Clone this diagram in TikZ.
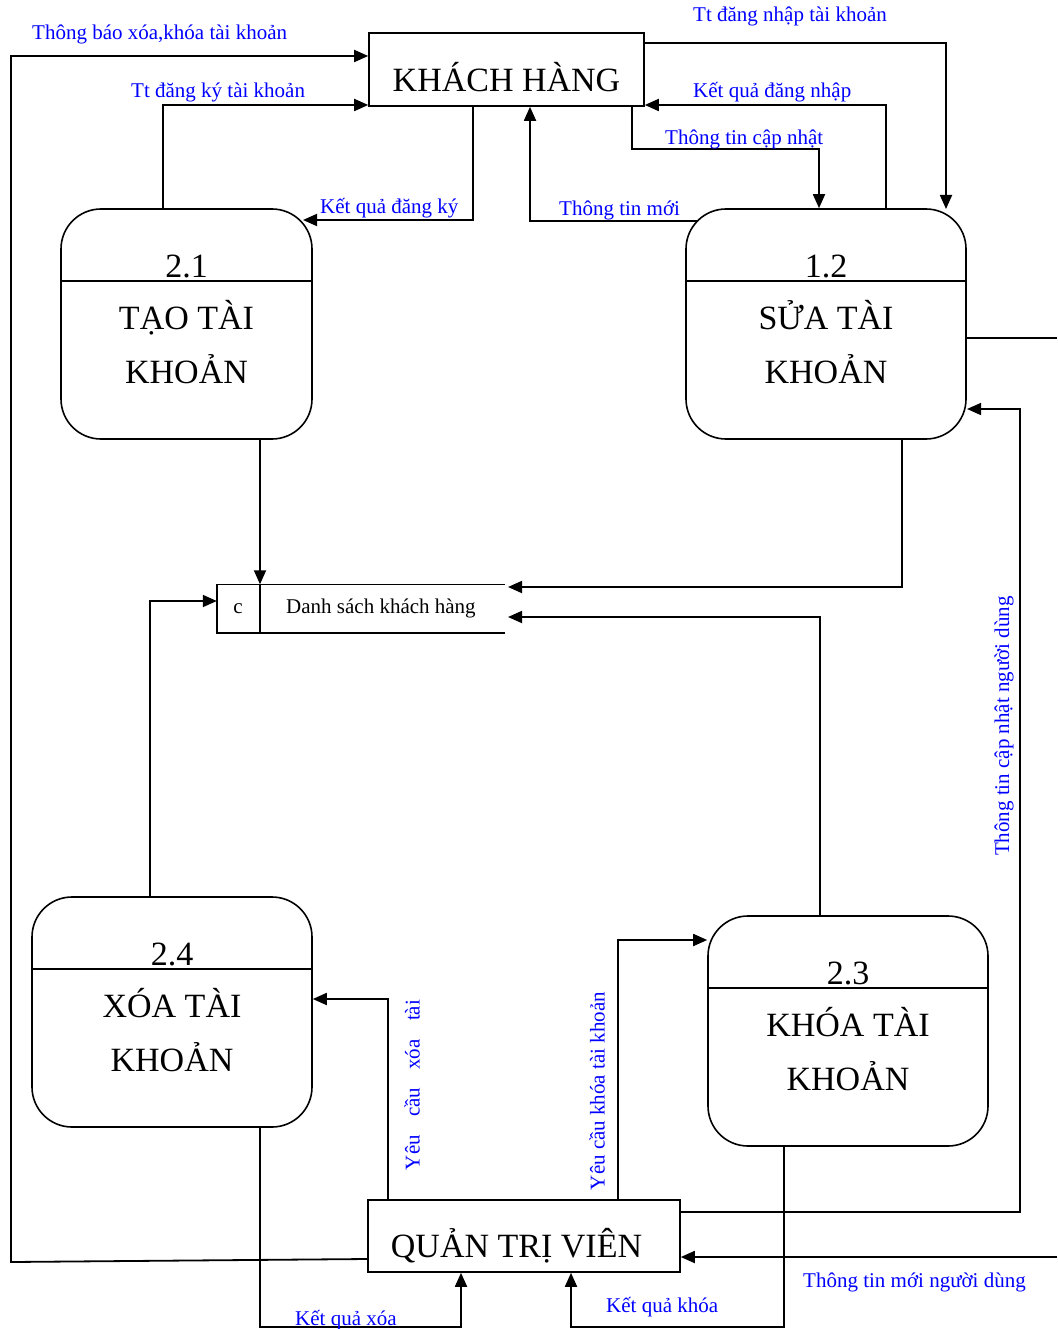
\documentclass[tikz,border=0pt]{standalone}
\usepackage{fontspec}
\setmainfont{Liberation Serif}
\usetikzlibrary{arrows.meta,calc}

\begin{document}
\begin{tikzpicture}[x=1pt,y=-1pt,
  flow/.style={line width=1.8pt,-{Triangle[length=14pt,width=12pt]}},
  plain/.style={line width=1.8pt},
  thinline/.style={line width=1.3pt},
  lbl/.style={text=blue,font=\fontsize{21}{25}\selectfont,inner sep=0pt},
  big/.style={font=\fontsize{34}{40}\selectfont,inner sep=0pt},
  ext/.style={draw,line width=1.6pt,inner sep=0pt,text height=45pt,text depth=0pt},
  proc/.style={draw,line width=1.6pt,rounded corners=40pt,minimum height=230pt,inner sep=0pt},
]
\useasboundingbox (0,0) rectangle (1057,1329);

% external entities
\node[ext,big,minimum width=275pt,minimum height=73pt] (kh) at (506.5,69.5) {KHÁCH HÀNG};
\node[ext,big,minimum width=312pt,minimum height=72pt,text height=42pt] (qtv) at (524,1236) {\hspace*{-15pt}QUẢN TRỊ VIÊN};

% processes
\node[proc,minimum width=251pt] (p21) at (186.5,324) {};
\node[proc,minimum width=280pt] (p12) at (826,324) {};
\node[proc,minimum width=280pt] (p24) at (172,1012) {};
\node[proc,minimum width=280pt] (p23) at (848,1031) {};

\foreach \p/\n/\a/\b in {p21/2.1/TẠO TÀI/KHOẢN, p12/1.2/SỬA TÀI/KHOẢN, p24/2.4/XÓA TÀI/KHOẢN, p23/2.3/KHÓA TÀI/KHOẢN} {
  \draw[line width=1.6pt] ($(\p.north west)+(0,73)$) -- ($(\p.north east)+(0,73)$);
  \node[big,anchor=base] at ($(\p.north)+(0,69)$) {\n};
  \node[big,anchor=base] at ($(\p.north)+(0,121)$) {\a};
  \node[big,anchor=base] at ($(\p.north)+(0,175)$) {\b};
}

% data store
\node[minimum width=288pt,minimum height=48pt,inner sep=0pt] (ds) at (361,608.5) {};
\draw[line width=1.6pt] (ds.north east) -- (ds.north west) -- (ds.south west) -- (ds.south east);
\draw[line width=1.6pt] ($(ds.north west)+(43,0)$) -- ($(ds.south west)+(43,0)$);
\node[font=\fontsize{21}{25}\selectfont,inner sep=0pt,anchor=base] (dsid) at (238,613) {c};
\node[font=\fontsize{21}{25}\selectfont,inner sep=0pt,anchor=base west] (dsname) at (286,613) {Danh sách khách hàng};

% flows between the customer and the processes
\draw[flow] (qtv.west |- 0,1259) -- (11,1262) -- (11,56) -- (kh.west |- 0,56);
\draw[flow] (p21.north -| 163,0) -- (163,105) -- (kh.west |- 0,105);
\draw[flow] (kh.south -| 473,0) -- (473,220) -- (303,220);
\draw[flow] (697,221) -- (530,221) -- (kh.south -| 530,0);
\draw[flow] (kh.east |- 0,43) -- (946,43) -- (946,209);
\draw[flow] (p12.north -| 886,0) -- (886,105) -- (kh.east |- 0,105);
\draw[flow] (kh.south -| 632,0) -- (632,149) -- (819,149) -- (p12.north -| 819,0);

% flows into the data store
\draw[flow] (p21.south -| 260,0) -- (ds.north -| 260,0);
\draw[flow] (p12.south -| 902,0) -- (902,587) -- (508,587);
\draw[flow] (p23.north -| 820,0) -- (820,617) -- (508,617);
\draw[flow] (p24.north -| 150,0) -- (150,601) -- (ds.west |- 0,601);

% flows around the administrator
\draw[thinline] (p12.east |- 0,338) -- (1057,338);
\draw[flow,line width=1.5pt] (qtv.east |- 0,1212) -- (1020,1212) -- (1020,409) -- (967,409);
\coordinate (newuser) at (1057,1257);
\draw[flow] (newuser) -- (qtv.east |- newuser);
\draw[flow] (qtv.north -| 388,0) -- (388,999) -- (p24.east |- 0,999);
\draw[flow] (qtv.north -| 618,0) -- (618,940) -- (p23.west |- 0,940);
\draw[flow] (p24.south -| 260,0) -- (260,1327) -- (461,1327) -- (qtv.south -| 461,0);
\draw[flow] (p23.south -| 784,0) -- (784,1327) -- (571,1327) -- (qtv.south -| 571,0);

% flow labels
\node[lbl,anchor=base west] at (32,40) {Thông báo xóa,khóa tài khoản};
\node[lbl,anchor=base west] at (131,98) {Tt đăng ký tài khoản};
\node[lbl,anchor=base west] at (320,214) {Kết quả đăng ký};
\node[lbl,anchor=base west] at (693,22) {Tt đăng nhập tài khoản};
\node[lbl,anchor=base west] at (693,98) {Kết quả đăng nhập};
\node[lbl,anchor=base west] at (665,145) {Thông tin cập nhật};
\node[lbl,anchor=base west] at (559,216) {Thông tin mới};
\node[lbl,rotate=90] at (1004,726) {Thông tin cập nhật người dùng};
\node[lbl,rotate=90] at (412,1085) {\makebox[170pt][s]{Yêu cầu xóa tài}};
\node[lbl,rotate=90] at (597,1091) {Yêu cầu khóa tài khoản};
\node[lbl,anchor=base west] at (803,1287) {Thông tin mới người dùng};
\node[lbl,anchor=base west] at (606,1312) {Kết quả khóa};
\node[lbl,anchor=base west] at (295,1325) {Kết quả xóa};
\end{tikzpicture}
\end{document}
